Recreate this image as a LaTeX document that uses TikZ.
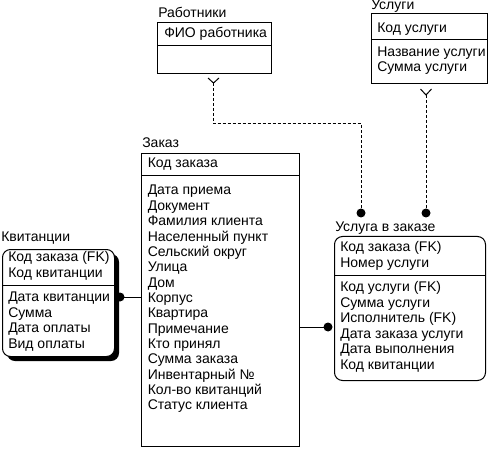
\documentclass[tikz,border=0pt]{standalone}
\usepackage{fontspec}
\setmainfont{Liberation Sans}
\usetikzlibrary{shadows}

\begin{document}
\begin{tikzpicture}[
  x=0.75pt,
  y=-0.75pt,
  font=\fontsize{10.5pt}{12.5pt}\selectfont,
  entity/.style={draw,line width=0.75pt,fill=white,anchor=north west,inner sep=0pt},
  depentity/.style={entity,rounded corners=6pt},
  enttitle/.style={anchor=base west,inner sep=0pt},
  attr/.style={anchor=base west,inner sep=0pt},
  rel/.style={draw,line width=0.75pt},
  idrel/.style={rel,dash pattern=on 2.25pt off 1.5pt}
]
  % Match the artwork frame.
  \useasboundingbox (0,0) rectangle (492,452);

  % Independent entities: Работники, Услуги, Заказ.
  \node[entity,minimum width=85.5pt,minimum height=38.25pt] (rab) at (157,22) {};
  \node[enttitle] (rab-t) at (158,18) {Работники};
  \draw[rel] (rab.west |- 0,46) -- (rab.east |- 0,46);
  \node[attr] (rab-k1) at (164,37.5) {ФИО работника};

  \node[entity,minimum width=87pt,minimum height=52.5pt] (usl) at (371,13) {};
  \node[enttitle] (usl-t) at (371,10) {Услуги};
  \draw[rel] (usl.west |- 0,40) -- (usl.east |- 0,40);
  \node[attr] (usl-k1) at (377,32.5) {Код услуги};
  \node[attr] (usl-a1) at (377,56.5) {Название услуги};
  \node[attr] (usl-a2) at (377,72) {Сумма услуги};

  \node[entity,minimum width=118.5pt,minimum height=219.75pt] (zakaz) at (141,153) {};
  \node[enttitle] (zakaz-t) at (142,148) {Заказ};
  \draw[rel] (zakaz.west |- 0,176) -- (zakaz.east |- 0,176);
  \node[attr] (zakaz-k1) at (147.5,167.5) {Код заказа};
  \foreach \t [count=\i] in {Дата приема,Документ,Фамилия клиента,Населенный пункт,
    Сельский округ,Улица,Дом,Корпус,Квартира,Примечание,Кто принял,Сумма заказа,
    Инвентарный №,Кол-во квитанций,Статус клиента} {
    \node[attr] (zakaz-a\i) at (147.5,{195+15.35*(\i-1)}) {\t};
  }

  % Dependent entities: Квитанции (with shadow), Услуга в заказе.
  \node[depentity,minimum width=84pt,minimum height=80.25pt,
    drop shadow={shadow xshift=3.4pt,shadow yshift=-3.4pt,fill=black,opacity=1}] (kvit) at (2,249) {};
  \node[enttitle] (kvit-t) at (1,241.5) {Квитанции};
  \draw[rel] (kvit.west |- 0,285.5) -- (kvit.east |- 0,285.5);
  \foreach \t [count=\i] in {Код заказа (FK),Код квитанции} {
    \node[attr] (kvit-k\i) at (8,{262+15.3*(\i-1)}) {\t};
  }
  \foreach \t [count=\i] in {Дата квитанции,Сумма,Дата оплаты,Вид оплаты} {
    \node[attr] (kvit-a\i) at (8,{301.5+15.5*(\i-1)}) {\t};
  }

  \node[depentity,minimum width=113.25pt,minimum height=108pt] (uvz) at (334,236) {};
  \node[enttitle] (uvz-t) at (335,231.5) {Услуга в заказе};
  \draw[rel] (uvz.west |- 0,275) -- (uvz.east |- 0,275);
  \foreach \t [count=\i] in {Код заказа (FK),Номер услуги} {
    \node[attr] (uvz-k\i) at (340,{252+15.5*(\i-1)}) {\t};
  }
  \foreach \t [count=\i] in {Код услуги (FK),Сумма услуги,Исполнитель (FK),
    Дата заказа услуги,Дата выполнения,Код квитанции} {
    \node[attr] (uvz-a\i) at (340,{291.7+15.5*(\i-1)}) {\t};
  }

  % Relationship ends.
  \coordinate (rabfoot) at (213.5,83);
  \coordinate (uslfoot) at (426,95);
  \coordinate (rabdot) at (361,213);
  \coordinate (usldot) at (426,213);
  \coordinate (kvitdot) at (120,297);
  \coordinate (uvzdot) at (328,327);

  % Identifying relationships (dashed) with crow's feet at the parent.
  \draw[rel] (rabfoot) ++(-5.5,-5) -- (rabfoot) -- ++(5.5,-5);
  \draw[rel] (uslfoot) ++(-5.5,-6) -- (uslfoot) -- ++(5.5,-6);
  \draw[idrel] (rabfoot) -- ++(0,41) -| (rabdot);
  \draw[idrel] (uslfoot) -- (usldot);

  % Solid relationships from Заказ.
  \draw[rel] (zakaz.west |- kvitdot) -- (kvitdot);
  \draw[rel] (zakaz.east |- uvzdot) -- (uvzdot);

  \foreach \p in {rabdot,usldot,kvitdot,uvzdot} {
    \fill (\p) circle[radius=4.5];
  }
\end{tikzpicture}
\end{document}
